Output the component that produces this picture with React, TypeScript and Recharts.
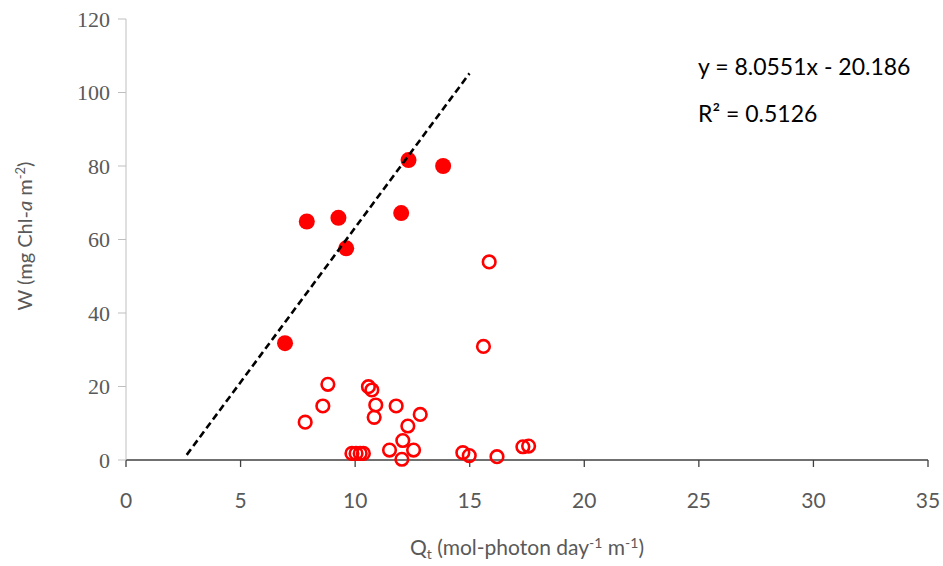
import { ScatterChart, Scatter, XAxis, YAxis, Label } from "recharts";

// filled points: [Qt, W]
const filledQt = [6.94, 7.89, 9.27, 9.61, 12.01, 12.33, 13.84];
const filledW = [31.8, 64.9, 65.9, 57.6, 67.2, 81.6, 80.0];

// open points
const openQt = [
  15.85, 15.6, 7.82, 8.59, 8.81, 10.58, 10.73, 10.9, 10.83, 11.79, 12.84, 12.3, 12.08, 11.5, 12.55,
  12.04, 9.86, 10.04, 10.22, 10.36, 14.7, 14.98, 16.19, 17.32, 17.57,
];
const openW = [
  53.9, 30.9, 10.3, 14.7, 20.6, 19.95, 19.05, 14.97, 11.6, 14.7, 12.4, 9.25, 5.3, 2.7, 2.7,
  0.2, 1.8, 1.8, 1.8, 1.8, 2.0, 1.2, 0.9, 3.6, 3.8,
];

// dashed trend line ends as drawn
const trendQt = [2.65, 14.99];
const trendW = [1.4, 105.2];

const xTicks = [0, 5, 10, 15, 20, 25, 30, 35];
const yTicks = [0, 20, 40, 60, 80, 100, 120];

const equation = "y = 8.0551x - 20.186";
const rSquared = "R² = 0.5126";

const filled = filledQt.map((x, i) => ({ x, y: filledW[i] }));
const open = openQt.map((x, i) => ({ x, y: openW[i] }));
const trend = trendQt.map((x, i) => ({ x, y: trendW[i] }));

const RED = "#FF0000";
const GREY = "#595959";
const sans = "Lato, 'Open Sans', sans-serif";

const FilledDot = (p: any) => <circle cx={p.cx} cy={p.cy} r={8} fill={RED} />;
const OpenDot = (p: any) => <circle cx={p.cx} cy={p.cy} r={6.3} fill="none" stroke={RED} strokeWidth={2.6} />;
const NoDot = () => null;

const YTitle = () => (
  <text
    x={32}
    y={236}
    transform="rotate(-90, 32, 236)"
    textAnchor="middle"
    fill={GREY}
    fontFamily={sans}
    fontSize={20}
  >
    W (mg Chl-<tspan fontStyle="italic">a</tspan> m
    <tspan dy={-7} fontSize={13}>-2</tspan>
    <tspan dy={7}>)</tspan>
  </text>
);

const XTitle = () => (
  <text x={527} y={555} textAnchor="middle" fill={GREY} fontFamily={sans} fontSize={21}>
    Q<tspan dy={4} fontSize={14}>t</tspan>
    <tspan dy={-4}> (mol-photon day</tspan>
    <tspan dy={-7} fontSize={14}>-1</tspan>
    <tspan dy={7}> m</tspan>
    <tspan dy={-7} fontSize={14}>-1</tspan>
    <tspan dy={7}>)</tspan>
  </text>
);

export default function App() {
  return (
    <div style={{ position: "absolute", left: 0, top: 0 }}>
      <ScatterChart width={943} height={566} margin={{ top: 19, right: 15, bottom: 46, left: 0 }}>
        <XAxis
          type="number"
          dataKey="x"
          domain={[0, 35]}
          ticks={xTicks}
          height={60}
          tickSize={7}
          tickMargin={26}
          axisLine={{ stroke: "#404040", strokeWidth: 1.3 }}
          tickLine={{ stroke: "#404040", strokeWidth: 1.3 }}
          tick={{ fill: GREY, fontSize: 21, fontFamily: sans }}
        >
          <Label content={<XTitle />} />
        </XAxis>
        <YAxis
          type="number"
          dataKey="y"
          domain={[0, 120]}
          ticks={yTicks}
          width={126}
          tickSize={8}
          tickMargin={8}
          axisLine={{ stroke: "#BFBFBF", strokeWidth: 1 }}
          tickLine={{ stroke: "#BFBFBF", strokeWidth: 1 }}
          tick={{ fill: GREY, fontSize: 22, fontFamily: "'Liberation Serif', serif" }}
        >
          <Label content={<YTitle />} />
        </YAxis>
        <Scatter data={open} shape={OpenDot} isAnimationActive={false} />
        <Scatter data={filled} shape={FilledDot} isAnimationActive={false} />
        <Scatter
          data={trend}
          shape={NoDot}
          line={{ stroke: "#000", strokeWidth: 2.6, strokeDasharray: "7 4" }}
          isAnimationActive={false}
        />
        <text x={698} y={75} fill="#000" fontFamily={sans} fontSize={23}>{equation}</text>
        <text x={698} y={122} fill="#000" fontFamily={sans} fontSize={23}>{rSquared}</text>
      </ScatterChart>
    </div>
  );
}
